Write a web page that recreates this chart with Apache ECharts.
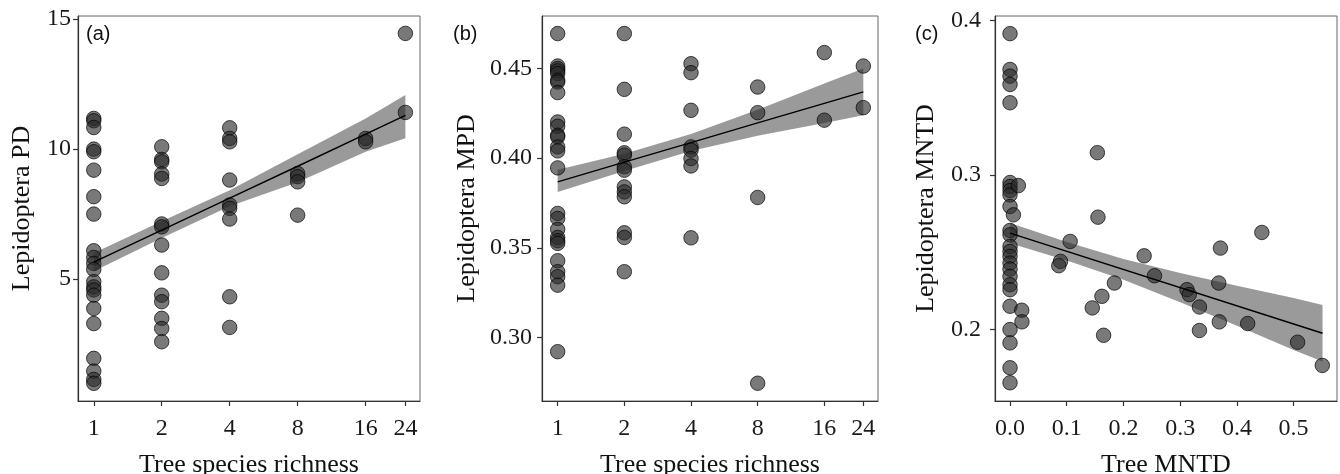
<!DOCTYPE html>
<html><head><meta charset="utf-8">
<script src="https://cdn.jsdelivr.net/npm/echarts@6/dist/echarts.min.js"></script>
<style>html,body{margin:0;padding:0;background:#fff}#c{width:1340px;height:474px}</style>
</head><body><div id="c"></div>
<script>
// ---------- data ----------
const richnessLevels = [1, 2, 4, 8, 16, 24];

// Panel (a): Lepidoptera PD, one list per richness level
const pdByRichness = [
  [11.18, 11.09, 10.83, 10.0, 9.9, 9.19, 8.17, 7.5, 6.09, 5.83, 5.6, 5.37, 4.9, 4.7, 4.58, 4.38, 3.87, 3.29, 1.95, 1.46, 1.14, 0.99],
  [10.09, 9.6, 9.51, 9.04, 8.87, 7.12, 7.01, 6.31, 5.24, 4.38, 4.13, 3.49, 3.1, 2.59],
  [10.82, 10.41, 10.28, 8.81, 7.85, 7.72, 7.31, 4.32, 3.14],
  [9.06, 8.94, 8.74, 7.46],
  [10.41, 10.28],
  [14.45, 11.41]
];
const pdFit = [5.65, 6.88, 8.11, 9.34, 10.58, 11.3];
const pdLo  = [5.3, 6.58, 7.8, 8.72, 9.9, 10.42];
const pdHi  = [6.0, 7.22, 8.42, 9.8, 11.18, 12.08];
const pdTicks = [5, 10, 15];

// Panel (b): Lepidoptera MPD
const mpdByRichness = [
  [0.4695, 0.4514, 0.4500, 0.4487, 0.4472, 0.4435, 0.4425, 0.4366, 0.4202, 0.4178, 0.4128, 0.4119, 0.4063, 0.4041, 0.3946, 0.3692, 0.3664, 0.3603, 0.3558, 0.3540, 0.3525, 0.3428, 0.3367, 0.3339, 0.3292, 0.2921],
  [0.4695, 0.4384, 0.4134, 0.4030, 0.4017, 0.3952, 0.3933, 0.3840, 0.3812, 0.3785, 0.3584, 0.3558, 0.3367],
  [0.4527, 0.4477, 0.4267, 0.4063, 0.4045, 0.3998, 0.3957, 0.3556],
  [0.4397, 0.4254, 0.3781, 0.2745],
  [0.4589, 0.4212],
  [0.4514, 0.4282]
];
const mpdFit = [0.3868, 0.3978, 0.4087, 0.4197, 0.4306, 0.437];
const mpdLo  = [0.3812, 0.3928, 0.4040, 0.4125, 0.4196, 0.424];
const mpdHi  = [0.3935, 0.4025, 0.4135, 0.427, 0.4416, 0.450];
const mpdTicks = [0.30, 0.35, 0.40, 0.45];

// Panel (c): Tree MNTD vs Lepidoptera MNTD
const treeMNTD = [0,0,0,0,0,0,0,0,0,0,0,0,0,0,0,0,0,0,0,0,0,0,0,0,0,
  0.0147, 0.006, 0.0206, 0.021,
  0.154, 0.155, 0.106, 0.089, 0.086, 0.2365, 0.2547, 0.184, 0.162, 0.145, 0.165,
  0.312, 0.316, 0.334, 0.334, 0.371, 0.368, 0.369, 0.419, 0.444, 0.507, 0.5506];
const lepMNTD = [0.3914, 0.3682, 0.3639, 0.3585, 0.3467, 0.2951, 0.2925, 0.2899, 0.2871, 0.2796, 0.2641, 0.2613, 0.2538, 0.2505, 0.2473, 0.2430, 0.2391, 0.2344, 0.2290, 0.2258, 0.2151, 0.2000, 0.1914, 0.1753, 0.1656,
  0.2931, 0.2742, 0.2125, 0.205,
  0.3144, 0.2727, 0.257, 0.2441, 0.2413, 0.2477, 0.2348, 0.2301, 0.2215, 0.214, 0.1963,
  0.2258, 0.2226, 0.2146, 0.1994, 0.2527, 0.2301, 0.205, 0.2039, 0.2628, 0.1918, 0.1768];
const mntdBandX = [0, 0.1, 0.2, 0.3, 0.4, 0.5, 0.551];
const mntdLo = [0.2559, 0.2446, 0.2322, 0.2176, 0.2024, 0.1868, 0.1793];
const mntdHi = [0.2689, 0.2566, 0.2456, 0.2366, 0.2284, 0.2204, 0.2159];
const mntdFitX = [0, 0.551];
const mntdFit = [0.2624, 0.1976];
const mntdYTicks = [0.2, 0.3, 0.4];
const mntdXTicks = [0, 0.1, 0.2, 0.3, 0.4, 0.5];

// ---------- helpers ----------
const SERIF = '"Liberation Serif", "Times New Roman", serif';
const log2 = v => Math.log2(v);
const richLog = richnessLevels.map(log2);

function scatterFromGroups(groups) {
  const out = [];
  groups.forEach((g, i) => g.forEach(v => out.push([richLog[i], v])));
  return out;
}
function bandSeries(idx, xs, lo, hi) {
  const data = xs.map((x, i) => [x, lo[i], hi[i]]);
  return {
    type: 'custom', xAxisIndex: idx, yAxisIndex: idx, z: 1, silent: true,
    data: data, encode: { x: 0, y: [1, 2] },
    renderItem: function (params, api) {
      if (params.dataIndex !== 0) return null;
      const pts = [];
      for (let i = 0; i < data.length; i++) pts.push(api.coord([data[i][0], data[i][2]]));
      for (let i = data.length - 1; i >= 0; i--) pts.push(api.coord([data[i][0], data[i][1]]));
      return { type: 'polygon', shape: { points: pts }, style: { fill: '#9a9a9a' } };
    }
  };
}
function pointSeries(idx, data) {
  return {
    type: 'scatter', xAxisIndex: idx, yAxisIndex: idx, z: 3, data: data,
    symbolSize: 14.5,
    itemStyle: { color: 'rgba(40,40,40,0.78)', borderColor: 'rgba(0,0,0,0.85)', borderWidth: 1 }
  };
}
function fitSeries(idx, xs, ys) {
  return {
    type: 'line', xAxisIndex: idx, yAxisIndex: idx, z: 4, symbol: 'none', silent: true,
    data: xs.map((x, i) => [x, ys[i]]),
    lineStyle: { color: '#000', width: 1.4 }
  };
}
function xAxis(idx, min, max, ticks, fmt, name) {
  return {
    type: 'value', gridIndex: idx, min: min, max: max,
    name: name, nameLocation: 'middle', nameGap: 51,
    nameTextStyle: { fontFamily: SERIF, fontSize: 26, color: '#111' },
    axisLine: { show: true, onZero: false, lineStyle: { color: '#333', width: 1.2 } },
    axisTick: { show: true, inside: false, length: 5, customValues: ticks, lineStyle: { color: '#333', width: 1.2 } },
    axisLabel: { customValues: ticks, formatter: fmt, margin: 16, fontFamily: SERIF, fontSize: 24, color: '#1a1a1a' },
    splitLine: { show: false }
  };
}
function yAxis(idx, min, max, ticks, fmt, name, gap, margin) {
  return {
    type: 'value', gridIndex: idx, min: min, max: max,
    name: name, nameLocation: 'middle', nameGap: gap,
    nameTextStyle: { fontFamily: SERIF, fontSize: 26, color: '#111' },
    axisLine: { show: true, onZero: false, lineStyle: { color: '#333', width: 1.2 } },
    axisTick: { show: true, inside: false, length: 5, customValues: ticks, lineStyle: { color: '#333', width: 1.2 } },
    axisLabel: { customValues: ticks, formatter: fmt, margin: margin, fontFamily: SERIF, fontSize: 24, color: '#1a1a1a' },
    splitLine: { show: false }
  };
}
const richFmt = v => String(Math.round(Math.pow(2, v)));
const gridBase = { top: 16, height: 385, show: true, borderColor: '#666', borderWidth: 1, backgroundColor: 'transparent', containLabel: false, outerBoundsMode: 'none' };

const chart = echarts.init(document.getElementById('c'), null, { renderer: 'canvas' });
chart.setOption({
  animation: false,
  backgroundColor: '#fff',
  grid: [
    Object.assign({ left: 78, width: 342 }, gridBase),
    Object.assign({ left: 542, width: 336 }, gridBase),
    Object.assign({ left: 995, width: 342 }, gridBase)
  ],
  xAxis: [
    xAxis(0, -0.232, 4.8, richLog, richFmt, 'Tree species richness'),
    xAxis(1, -0.235, 4.805, richLog, richFmt, 'Tree species richness'),
    xAxis(2, -0.0265, 0.5765, mntdXTicks, v => v.toFixed(1), 'Tree MNTD')
  ],
  yAxis: [
    yAxis(0, 0.31, 15.12, pdTicks, v => String(v), 'Lepidoptera PD', 43, 7),
    yAxis(1, 0.2646, 0.4793, mpdTicks, v => v.toFixed(2), 'Lepidoptera MPD', 62, 10),
    yAxis(2, 0.1538, 0.4028, mntdYTicks, v => v.toFixed(1), 'Lepidoptera MNTD', 56, 14)
  ],
  graphic: [
    { type: 'text', left: 86, top: 24, style: { text: '(a)', font: '20px "Liberation Sans", Arial, sans-serif', fill: '#111' } },
    { type: 'text', left: 453, top: 24, style: { text: '(b)', font: '20px "Liberation Sans", Arial, sans-serif', fill: '#111' } },
    { type: 'text', left: 915, top: 24, style: { text: '(c)', font: '20px "Liberation Sans", Arial, sans-serif', fill: '#111' } }
  ],
  series: [
    bandSeries(0, richLog, pdLo, pdHi),
    pointSeries(0, scatterFromGroups(pdByRichness)),
    fitSeries(0, richLog, pdFit),
    bandSeries(1, richLog, mpdLo, mpdHi),
    pointSeries(1, scatterFromGroups(mpdByRichness)),
    fitSeries(1, richLog, mpdFit),
    bandSeries(2, mntdBandX, mntdLo, mntdHi),
    pointSeries(2, treeMNTD.map((x, i) => [x, lepMNTD[i]])),
    fitSeries(2, mntdFitX, mntdFit)
  ]
});
</script>
</body></html>
